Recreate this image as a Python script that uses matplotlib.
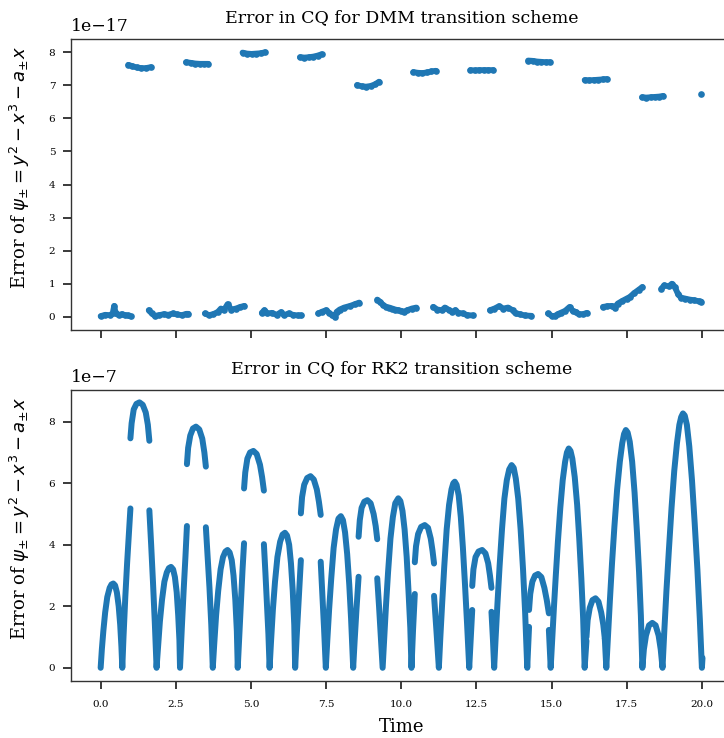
import numpy as np
import matplotlib
matplotlib.use("Agg")
import matplotlib.pyplot as plt

nan = np.nan
BLUE = "#1f77b4"

# ---------------- DMM panel (values in units of 1e-17) ----------------
dmm_upper_t = [
    [0.92, 1.05, 1.20, 1.35, 1.50, 1.67],
    [2.84, 3.00, 3.15, 3.30, 3.45, 3.58],
    [4.72, 4.87, 5.02, 5.17, 5.32, 5.47],
    [6.63, 6.78, 6.93, 7.08, 7.22, 7.35],
    [8.53, 8.68, 8.83, 8.98, 9.13, 9.26],
    [10.40, 10.55, 10.70, 10.85, 11.00, 11.15],
    [12.30, 12.45, 12.60, 12.75, 12.90, 13.06],
    [14.22, 14.37, 14.52, 14.66, 14.80, 14.94],
    [16.10, 16.25, 16.40, 16.55, 16.70, 16.83],
    [18.01, 18.15, 18.30, 18.44, 18.58, 18.71],
    [19.98],
]
dmm_upper_v = [
    [7.62, 7.58, 7.54, 7.52, 7.52, 7.55],
    [7.70, 7.68, 7.66, 7.65, 7.65, 7.65],
    [7.99, 7.96, 7.95, 7.96, 7.97, 8.00],
    [7.85, 7.84, 7.85, 7.87, 7.90, 7.94],
    [7.01, 6.97, 6.96, 6.98, 7.03, 7.11],
    [7.40, 7.38, 7.37, 7.39, 7.42, 7.44],
    [7.46, 7.45, 7.46, 7.46, 7.46, 7.46],
    [7.75, 7.74, 7.72, 7.71, 7.70, 7.70],
    [7.16, 7.15, 7.16, 7.17, 7.18, 7.19],
    [6.64, 6.63, 6.64, 6.65, 6.66, 6.68],
    [6.74],
]
dmm_lower_t = [
    [0.0, 0.15, 0.3, 0.4, 0.45, 0.5, 0.6, 0.7, 0.8, 0.9, 1.0],
    [1.6, 1.7, 1.8, 1.95, 2.1, 2.25, 2.4, 2.55, 2.7, 2.85, 2.92],
    [3.47, 3.6, 3.75, 3.9, 4.0, 4.1, 4.22, 4.35, 4.5, 4.65, 4.78],
    [5.36, 5.45, 5.55, 5.7, 5.85, 6.0, 6.1, 6.25, 6.4, 6.55, 6.68],
    [7.24, 7.35, 7.5, 7.6, 7.7, 7.8, 7.85, 7.95, 8.1, 8.3, 8.45, 8.6],
    [9.2, 9.3, 9.4, 9.5, 9.6, 9.7, 9.8, 9.9, 10.0, 10.1, 10.2, 10.35, 10.5],
    [11.06, 11.2, 11.35, 11.45, 11.6, 11.7, 11.8, 11.9, 12.05, 12.2, 12.39],
    [12.95, 13.1, 13.25, 13.4, 13.55, 13.7, 13.8, 13.95, 14.1, 14.33],
    [14.88, 15.0, 15.1, 15.2, 15.3, 15.45, 15.6, 15.7, 15.8, 15.9, 16.05, 16.17],
    [16.71, 16.85, 17.0, 17.1, 17.2, 17.35, 17.5, 17.6, 17.75, 17.9, 18.02],
    [18.65, 18.75, 18.9, 19.0, 19.1, 19.2, 19.3, 19.45, 19.6, 19.75, 19.9, 19.98],
]
dmm_lower_v = [
    [0.02, 0.06, 0.05, 0.10, 0.33, 0.10, 0.05, 0.08, 0.05, 0.04, 0.01],
    [0.20, 0.10, 0.03, 0.05, 0.08, 0.06, 0.10, 0.07, 0.05, 0.09, 0.09],
    [0.10, 0.05, 0.08, 0.15, 0.25, 0.20, 0.38, 0.22, 0.25, 0.30, 0.33],
    [0.12, 0.20, 0.10, 0.12, 0.06, 0.14, 0.05, 0.10, 0.06, 0.04, 0.04],
    [0.10, 0.15, 0.20, 0.12, 0.05, 0.00, 0.15, 0.22, 0.28, 0.33, 0.38, 0.43],
    [0.52, 0.45, 0.35, 0.30, 0.28, 0.25, 0.22, 0.20, 0.18, 0.15, 0.20, 0.25, 0.28],
    [0.30, 0.22, 0.20, 0.28, 0.20, 0.15, 0.20, 0.12, 0.10, 0.05, 0.04],
    [0.20, 0.25, 0.32, 0.25, 0.28, 0.20, 0.10, 0.08, 0.04, 0.03],
    [0.10, 0.03, 0.02, 0.08, 0.12, 0.18, 0.30, 0.18, 0.15, 0.08, 0.08, 0.12],
    [0.30, 0.32, 0.33, 0.28, 0.40, 0.48, 0.55, 0.60, 0.72, 0.82, 0.90],
    [0.85, 0.95, 0.92, 1.00, 0.90, 0.70, 0.58, 0.55, 0.52, 0.50, 0.47, 0.46],
]

# ---------------- RK2 panel (values in units of 1e-7) ----------------
rk2_lower_t = [
    [0.00, 0.04, 0.09, 0.15, 0.22, 0.30, 0.36, 0.42, 0.48, 0.54, 0.60, 0.65, 0.69, 0.72,
     0.76, 0.82, 0.88, 0.94, 0.99],
    [1.62, 1.68, 1.74, 1.80, 1.86, 1.91, 1.97, 2.04, 2.12, 2.20, 2.27, 2.34, 2.41, 2.47,
     2.53, 2.58, 2.62, 2.64, 2.70, 2.76, 2.82, 2.87],
    [3.50, 3.56, 3.62, 3.68, 3.73, 3.78, 3.84, 3.91, 3.99, 4.07, 4.15, 4.22, 4.29, 4.36,
     4.42, 4.48, 4.53, 4.56, 4.62, 4.67, 4.72, 4.77],
    [5.43, 5.48, 5.53, 5.58, 5.62, 5.67, 5.73, 5.80, 5.88, 5.97, 6.05, 6.13, 6.20, 6.27,
     6.33, 6.39, 6.44, 6.47, 6.52, 6.57, 6.62, 6.66],
    [7.32, 7.37, 7.43, 7.49, 7.54, 7.60, 7.67, 7.75, 7.83, 7.91, 7.99, 8.06, 8.13, 8.20,
     8.27, 8.33, 8.40, 8.45, 8.51, 8.58],
    [9.20, 9.26, 9.32, 9.38, 9.43, 9.49, 9.56, 9.64, 9.72, 9.80, 9.90, 9.97, 10.04,
     10.11, 10.18, 10.24, 10.30, 10.34, 10.39, 10.45],
    [11.09, 11.17, 11.25, 11.30, 11.36, 11.43, 11.51, 11.59, 11.67, 11.73, 11.78, 11.84,
     11.91, 11.98, 12.05, 12.12, 12.19, 12.26, 12.31, 12.36],
    [13.00, 13.05, 13.09, 13.14, 13.20, 13.27, 13.35, 13.43, 13.51, 13.59, 13.67, 13.74,
     13.81, 13.89, 13.97, 14.05, 14.12, 14.19, 14.25],
    [14.91, 14.97, 15.03, 15.08, 15.14, 15.21, 15.29, 15.37, 15.45, 15.51, 15.57, 15.63,
     15.69, 15.77, 15.85, 15.92, 15.99, 16.05, 16.10, 16.16],
    [16.77, 16.82, 16.88, 16.94, 17.01, 17.09, 17.18, 17.27, 17.35, 17.41, 17.47, 17.53,
     17.60, 17.68, 17.76, 17.84, 17.91, 17.97, 18.02,
     18.07, 18.14, 18.24, 18.35, 18.46, 18.56, 18.63, 18.69,
     18.75, 18.82, 18.90, 18.99, 19.08, 19.17, 19.25, 19.31, 19.37, 19.43, 19.50, 19.58,
     19.67, 19.76, 19.85, 19.93, 20.00, 20.02],
]
rk2_lower_v = [
    [0.00, 0.60, 1.20, 1.80, 2.30, 2.60, 2.71, 2.74, 2.68, 2.45, 2.00, 1.40, 0.70, 0.00,
     1.00, 2.30, 3.40, 4.40, 5.18],
    [5.12, 4.00, 2.80, 1.50, 0.00, 0.70, 1.50, 2.20, 2.80, 3.10, 3.24, 3.28, 3.20, 2.95,
     2.45, 1.70, 0.90, 0.00, 1.30, 2.50, 3.60, 4.61],
    [4.57, 3.60, 2.60, 1.40, 0.00, 0.80, 1.70, 2.50, 3.20, 3.60, 3.78, 3.83, 3.75, 3.50,
     3.00, 2.20, 1.20, 0.00, 1.20, 2.20, 3.20, 4.05],
    [4.02, 3.10, 2.10, 1.10, 0.00, 0.90, 1.90, 2.80, 3.60, 4.10, 4.33, 4.39, 4.30, 4.00,
     3.40, 2.50, 1.40, 0.00, 1.00, 1.90, 2.80, 3.50],
    [3.45, 2.50, 1.30, 0.00, 0.90, 1.90, 2.90, 3.90, 4.50, 4.85, 4.93, 4.80, 4.40, 3.70,
     2.70, 1.60, 0.00, 0.90, 1.90, 2.96],
    [2.91, 2.00, 1.00, 0.00, 0.90, 2.00, 3.10, 4.20, 4.90, 5.35, 5.51, 5.42, 5.10,
     4.50, 3.60, 2.50, 1.30, 0.00, 1.20, 2.40],
    [2.34, 1.20, 0.00, 1.00, 2.10, 3.30, 4.50, 5.30, 5.80, 6.00, 6.05, 5.95,
     5.60, 4.90, 3.90, 2.70, 1.40, 0.00, 0.95, 1.88],
    [1.82, 0.90, 0.00, 1.00, 2.10, 3.30, 4.50, 5.50, 6.10, 6.45, 6.59, 6.50,
     6.15, 5.50, 4.50, 3.20, 1.80, 0.00, 1.33],
    [1.23, 0.00, 1.10, 2.00, 3.00, 4.10, 5.20, 6.10, 6.70, 7.00, 7.13, 7.05,
     6.80, 6.20, 5.30, 4.20, 2.90, 1.60, 0.00, 0.88],
    [0.95, 0.00, 1.10, 2.20, 3.40, 4.60, 5.80, 6.70, 7.30, 7.60, 7.73, 7.65,
     7.35, 6.70, 5.70, 4.40, 3.10, 1.70, 0.00,
     0.60, 1.05, 1.38, 1.46, 1.38, 1.05, 0.60, 0.00,
     1.20, 2.50, 3.80, 5.20, 6.40, 7.30, 7.90, 8.15, 8.27, 8.20, 7.90, 7.20,
     6.10, 4.70, 3.20, 1.60, 0.00, 0.32],
]
rk2_upper_t = [
    [0.99, 1.03, 1.10, 1.19, 1.29, 1.40, 1.50, 1.57, 1.62],
    [2.87, 2.91, 2.98, 3.07, 3.17, 3.28, 3.38, 3.45, 3.50],
    [4.77, 4.81, 4.88, 4.97, 5.08, 5.19, 5.30, 5.37, 5.43],
    [6.66, 6.70, 6.77, 6.87, 6.98, 7.09, 7.19, 7.26, 7.32],
    [8.58, 8.62, 8.68, 8.77, 8.87, 8.98, 9.08, 9.15, 9.20],
    [10.45, 10.49, 10.56, 10.66, 10.78, 10.89, 10.98, 11.04, 11.09],
    [12.36, 12.40, 12.47, 12.57, 12.69, 12.80, 12.89, 12.95, 13.00],
    [14.25, 14.29, 14.36, 14.45, 14.55, 14.66, 14.76, 14.84, 14.91],
    [16.16, 16.20, 16.27, 16.36, 16.46, 16.56, 16.65, 16.72, 16.77],
]
rk2_upper_v = [
    [7.46, 7.95, 8.40, 8.58, 8.63, 8.55, 8.30, 7.90, 7.38],
    [6.62, 7.15, 7.55, 7.78, 7.84, 7.75, 7.45, 7.00, 6.54],
    [5.83, 6.35, 6.80, 7.00, 7.05, 6.95, 6.60, 6.20, 5.76],
    [5.02, 5.55, 5.95, 6.17, 6.23, 6.12, 5.80, 5.40, 4.97],
    [4.26, 4.80, 5.20, 5.40, 5.45, 5.35, 5.00, 4.60, 4.18],
    [3.43, 3.95, 4.35, 4.58, 4.64, 4.55, 4.20, 3.80, 3.39],
    [2.66, 3.20, 3.60, 3.78, 3.83, 3.72, 3.40, 3.00, 2.60],
    [1.88, 2.40, 2.80, 3.00, 3.05, 2.95, 2.60, 2.20, 1.77],
    [1.00, 1.55, 1.95, 2.20, 2.26, 2.15, 1.80, 1.40, 0.95],
]

titles = ["Error in CQ for DMM transition scheme", "Error in CQ for RK2 transition scheme"]
ylabel = r"Error of $\psi_{\pm} = y^2 - x^3 - a_{\pm}x$"
xlabel = "Time"
xticks = [0.0, 2.5, 5.0, 7.5, 10.0, 12.5, 15.0, 17.5, 20.0]

plt.rcParams["font.family"] = ["DejaVu Serif"]

fig = plt.figure(figsize=(7.24, 7.38), dpi=100)
ax1 = fig.add_axes([0.0975, 0.5528, 0.9135, 0.3943])
ax2 = fig.add_axes([0.0975, 0.0772, 0.9135, 0.3943], sharex=ax1)


def join(ts, vs, scale):
    T, V = [], []
    for t, v in zip(ts, vs):
        T += list(t) + [nan]
        V += [x * scale for x in v] + [nan]
    return np.array(T), np.array(V)


# top panel
for ts, vs in [(dmm_upper_t, dmm_upper_v), (dmm_lower_t, dmm_lower_v)]:
    T, V = join(ts, vs, 1e-17)
    ax1.plot(T, V, color=BLUE, lw=4.2, solid_capstyle="round",
             solid_joinstyle="round", marker="o", ms=4.8, mew=0)

# bottom panel
for ts, vs in [(rk2_lower_t, rk2_lower_v), (rk2_upper_t, rk2_upper_v)]:
    T, V = join(ts, vs, 1e-7)
    ax2.plot(T, V, color=BLUE, lw=4.3, solid_capstyle="round",
             solid_joinstyle="round")

for ax, title in zip([ax1, ax2], titles):
    ax.set_title(title, fontsize=12.5, pad=12)
    ax.set_ylabel(ylabel, fontsize=13)
    ax.tick_params(axis="both", which="major", length=6, width=1.25,
                   labelsize=7.5, color="#222222")
    ax.tick_params(axis="x", pad=8)
    ax.tick_params(axis="y", pad=5)
    for s in ax.spines.values():
        s.set_linewidth(1.0)
        s.set_color("#333333")
    ax.yaxis.get_offset_text().set_fontsize(12.5)
    ax.yaxis.OFFSETTEXTPAD = 6
    ax.set_xlim(-1, 21)
    ax.set_xticks(xticks)
    ax.yaxis.set_label_coords(-0.058, 0.557)

ax1.set_ylim(-0.4e-17, 8.4e-17)
ax1.set_yticks([i * 1e-17 for i in range(9)])
ax2.set_ylim(-0.43e-7, 9.03e-7)
ax2.set_yticks([i * 1e-7 for i in range(0, 9, 2)])
plt.setp(ax1.get_xticklabels(), visible=False)
ax2.set_xlabel(xlabel, fontsize=13, labelpad=6)

fig.savefig("out.png", dpi=100)
